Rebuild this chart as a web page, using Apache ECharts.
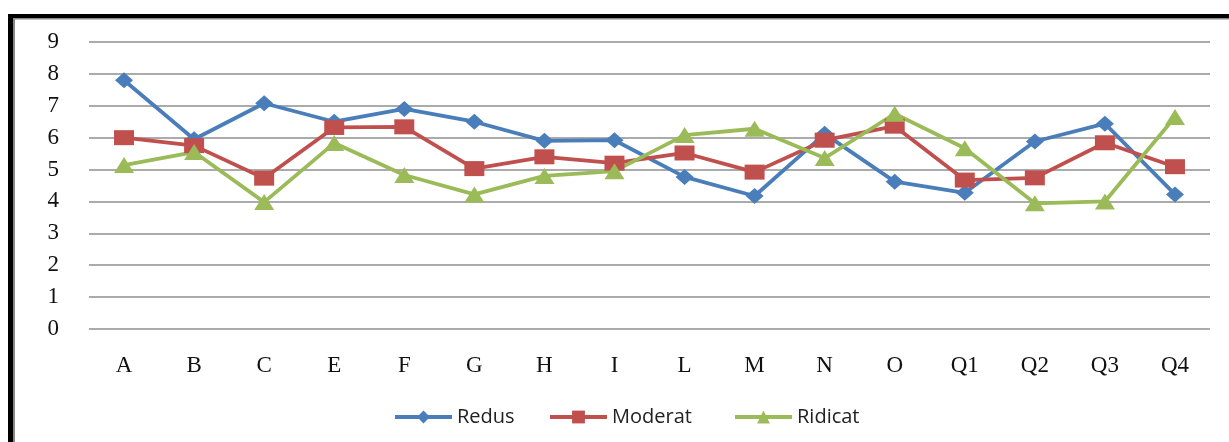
<!DOCTYPE html>
<html>
<head>
<meta charset="utf-8">
<script src="https://cdn.jsdelivr.net/npm/echarts@6/dist/echarts.min.js"></script>
<style>
  html, body { margin: 0; padding: 0; background: #fff; }
  #chart { width: 1229px; height: 442px; }
</style>
</head>
<body>
<div id="chart"></div>
<script>
// categorii si valori
const categories = ['A', 'B', 'C', 'E', 'F', 'G', 'H', 'I', 'L', 'M', 'N', 'O', 'Q1', 'Q2', 'Q3', 'Q4']
const redus = [7.8, 5.95, 7.08, 6.5, 6.9, 6.5, 5.9, 5.92, 4.77, 4.17, 6.12, 4.62, 4.27, 5.88, 6.44, 4.22]
const moderat = [6.0, 5.75, 4.73, 6.32, 6.34, 5.03, 5.4, 5.2, 5.52, 4.92, 5.92, 6.36, 4.67, 4.74, 5.84, 5.09]
const ridicat = [5.14, 5.55, 3.98, 5.83, 4.83, 4.22, 4.8, 4.95, 6.08, 6.28, 5.36, 6.75, 5.67, 3.94, 4.0, 6.65]
const yTicks = [0, 1, 2, 3, 4, 5, 6, 7, 8, 9]
const seriesNames = ['Redus', 'Moderat', 'Ridicat']

const chart = echarts.init(document.getElementById('chart'))

function serie (name, data, color, symbol, size) {
  return {
    name: name,
    type: 'line',
    data: data,
    symbol: symbol,
    symbolSize: size,
    showSymbol: true,
    lineStyle: { width: 3.8, color: color },
    itemStyle: { color: color },
    emphasis: { disabled: true }
  }
}

// o legenda pentru fiecare serie, ca sa le asezam ca in original
function legenda (name, left) {
  return {
    left: left,
    top: 407,
    padding: 0,
    itemWidth: 57,
    itemHeight: 16,
    lineStyle: { width: 4 },
    textStyle: {
      fontFamily: 'Open Sans',
      fontSize: 20,
      color: '#222'
    },
    data: [name]
  }
}

chart.setOption({
  animation: false,
  backgroundColor: '#fff',
  grid: {
    left: 89,
    right: 19,
    top: 42,
    bottom: 113,
    containLabel: false
  },
  legend: [
    legenda(seriesNames[0], 393),
    legenda(seriesNames[1], 548),
    legenda(seriesNames[2], 733)
  ],
  xAxis: {
    type: 'category',
    data: categories,
    boundaryGap: true,
    axisLine: { show: false },
    axisTick: { show: false },
    axisLabel: {
      margin: 25,
      fontFamily: 'Liberation Serif',
      fontSize: 23,
      color: '#111'
    }
  },
  yAxis: {
    type: 'value',
    min: yTicks[0],
    max: yTicks[yTicks.length - 1],
    interval: 1,
    axisLine: { show: false },
    axisTick: { show: false },
    axisLabel: {
      margin: 30,
      fontFamily: 'Liberation Serif',
      fontSize: 23,
      color: '#111'
    },
    splitLine: { lineStyle: { color: '#8f8f8f', width: 1.5 } }
  },
  graphic: [
    { type: 'rect', shape: { x: 8, y: 14, width: 1221, height: 4 }, style: { fill: '#000' } },
    { type: 'rect', shape: { x: 14, y: 18, width: 1215, height: 1.5 }, style: { fill: '#888' } },
    { type: 'rect', shape: { x: 8, y: 14, width: 5, height: 428 }, style: { fill: '#000' } },
    { type: 'rect', shape: { x: 13, y: 18, width: 2, height: 424 }, style: { fill: '#888' } }
  ],
  series: [
    serie(seriesNames[0], redus, '#4A7EBB', 'diamond', [18, 16]),
    serie(seriesNames[1], moderat, '#C0504D', 'rect', [20, 15]),
    serie(seriesNames[2], ridicat, '#9BBB59', 'triangle', [20, 16])
  ]
})
</script>
</body>
</html>
